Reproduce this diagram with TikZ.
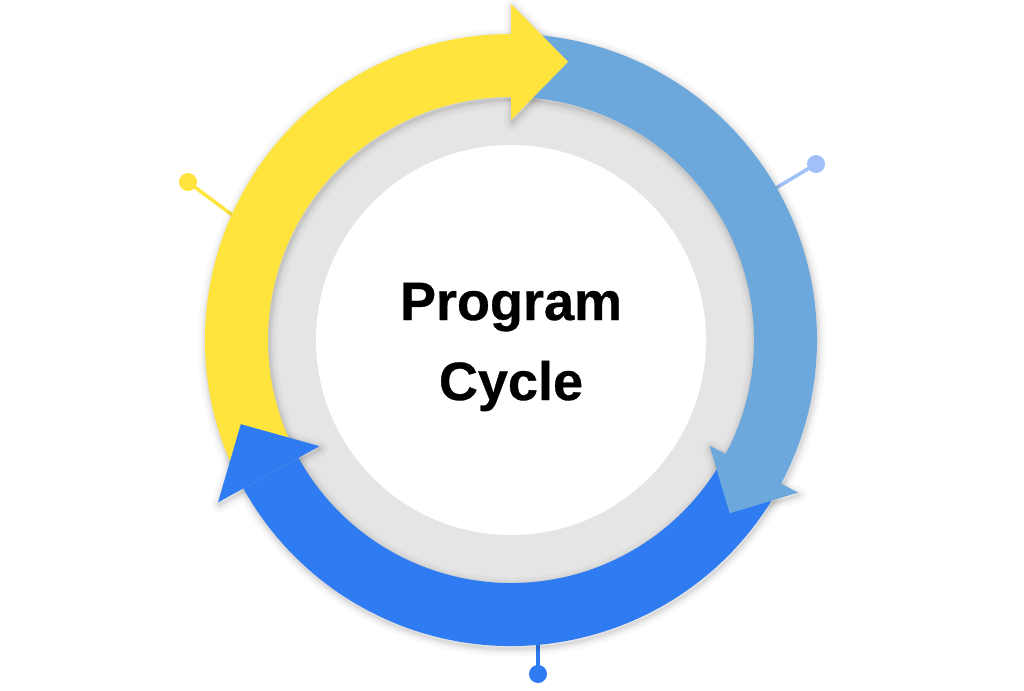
\documentclass[tikz,border=0pt]{standalone}
\usepackage{fontspec}
\setmainfont{Liberation Sans}
\newfontface\titlefont{Liberation Sans Bold}[FakeBold=0.6]
\definecolor{cyellow}{HTML}{FFE43D}
\definecolor{clight}{HTML}{6DA8DD}
\definecolor{cdark}{HTML}{2F7BF2}
\definecolor{cpin}{HTML}{A0C0F8}
\definecolor{cring}{HTML}{E5E5E5}
\tikzset{
  arrowshape/.style n args={6}{insert path={
    (#1:306) arc[start angle=#1,end angle=#2,radius=306]
    -- (#2:#5) -- (#3:#6) -- (#2:#4) -- (#2:243)
    arc[start angle=#2,end angle=#1,radius=243] -- cycle}},
  bandshape/.style n args={2}{insert path={
    (#1:306) arc[start angle=#1,end angle=#2,radius=306]
    -- (#2:243) arc[start angle=#2,end angle=#1,radius=243] -- cycle}},
  headshape/.style n args={5}{insert path={
    (#1:#4) -- (#2:#5) -- (#1:#3) -- cycle}},
  shadowline/.style={black, opacity=#1, line join=round},
  pindot/.style={circle, fill=#1, minimum size=18pt, inner sep=0pt},
  pinline/.style={draw=#1, line width=3.5pt},
  title/.style={font=\fontsize{54}{60}\titlefont, text=black, anchor=base}
}
\begin{document}
\begin{tikzpicture}[x=1pt,y=1pt]
\useasboundingbox (0,-690) rectangle (1024,0);
\fill[white] (0,-690) rectangle (1024,0);
\begin{scope}[shift={(511,-340)}]
  % gray ring
  \fill[cring] (0,0) circle[radius=250];
  % pins
  \node[pindot=cyellow] (py) at (-323,158) {};
  \coordinate (ey) at (-268,117);
  \draw[pinline=cyellow] (py.center) -- (ey);
  \node[pindot=cpin] (pl) at (305,176) {};
  \coordinate (el) at (250,143);
  \draw[pinline=cpin] (pl.center) -- (el);
  \node[pindot=cdark] (pd) at (27,-334) {};
  \coordinate (ed) at (27,-290);
  \draw[pinline=cdark] (pd.center) -- (ed);
  % shadows
  \foreach \w/\o in {16/0.025, 10/0.03, 6/0.04, 2.5/0.05} {
    \begin{scope}[shift={(1,-2.5)}]
      \draw[shadowline=\o, line width=\w, arrowshape={209}{90}{78.4}{220}{336}{284}];
      \draw[shadowline=\o, line width=\w, arrowshape={90}{-28}{-38.4}{225}{325}{279}];
      \draw[shadowline=\o, line width=\w, arrowshape={-28}{-151}{-162.7}{219}{335}{283}];
    \end{scope}
  }
  % white centre
  \fill[white] (0,0) circle[radius=195];
  % bands
  \fill[cyellow, bandshape={209}{90}];
  \fill[clight, bandshape={90}{-28}];
  \fill[cdark, bandshape={-28}{-151}];
  % heads
  \fill[cdark, headshape={-151}{-162.7}{219}{335}{283}];
  \fill[cyellow, headshape={90}{78.4}{220}{336}{284}];
  \fill[clight, headshape={-28}{-38.4}{225}{325}{279}];
  % title
  \node[title] (t1) at (0,20) {Program};
  \node[title] (t2) at (0,-60) {Cycle};
\end{scope}
\end{tikzpicture}
\end{document}
